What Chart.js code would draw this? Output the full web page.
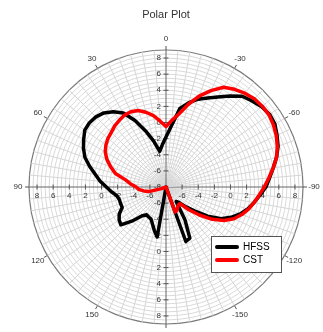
<!DOCTYPE html>
<html>
<head>
<meta charset="utf-8">
<script src="https://cdn.jsdelivr.net/npm/chart.js@4.4.0/dist/chart.umd.min.js"></script>
<style>
  html, body { margin: 0; padding: 0; background: #fff; }
  canvas { display: block; }
</style>
</head>
<body>
<canvas id="polarChart" width="323" height="332"></canvas>
<script>
// angle of every spoke (deg), in the order the radar walks them: clockwise from top
const angles = [0, -5, -10, -15, -20, -25, -30, -35, -40, -45, -50, -55, -60, -65, -70, -75, -80, -85,
  -90, -95, -100, -105, -110, -115, -120, -125, -130, -135, -140, -145, -150, -155, -160, -165, -170, -175,
  180, 175, 170, 165, 160, 155, 150, 145, 140, 135, 130, 125, 120, 115, 110, 105, 100, 95,
  90, 85, 80, 75, 70, 65, 60, 55, 50, 45, 40, 35, 30, 25, 20, 15, 10, 5];

// HFSS gain (dB), same order as angles
const hfss = [-1.8, -0.4, 1.9, 2.8, 3.6, 4.2, 4.9, 5.8, 6.7, 7.1, 7.5, 7.7, 7.6, 7.2, 6.8, 6.2, 5.5, 4.9,
  4.4, 3.7, 3.1, 2.5, 1.8, 0.9, -0.1, -1.7, -3.4, -4.5, -5.5, -5.8, -3.3, -1.0, -0.8, -8, -8, -8,
  -8, -8, -1.7, -2.4, -3.1, -3.6, -3.7, -3.8, -3.3, -2.0, -0.7, -0.9, -1.3, -2.0, -2.0, -2.0, -1.8, -1.2,
  -0.6, 0.2, 0.9, 1.8, 2.7, 3.3, 3.8, 4.3, 4.4, 4.3, 4.0, 3.4, 2.6, 1.1, -0.6, -2.1, -3.5, -2.75];

// CST gain (dB), same order as angles
const cst = [-0.5, 0.3, 1.2, 2.6, 4.0, 5.2, 6.3, 6.8, 7.2, 7.5, 7.6, 7.6, 7.4, 7.1, 6.7, 6.2, 5.5, 4.8,
  4.2, 3.6, 3.1, 2.6, 2.0, 1.3, 0.3, -1.0, -2.6, -4.0, -5.3, -5.3, -5.1, -4.8, -4.7, -8, -8, -8,
  -8, -8, -8, -8, -8, -8, -8, -8, -8, -8, -8, -8, -8, -8, -7.4, -5.8, -5.2, -4.6,
  -4.3, -3.6, -2.9, -1.5, -0.7, 0.1, 0.7, 1.1, 1.4, 1.6, 1.9, 2.1, 2.3, 2.3, 2.1, 1.6, 1.0, 0.2];

const rLabels = [8, 6, 4, 2, 0, -2, -4, -6];
const angleLabels = [0, 30, 60, 90, 120, 150, 180, -150, -120, -90, -60, -30];

const axisIdx = [0, 18, 36, 54];

// tick labels on the four axes, angle labels and the legend box
const overlay = {
  id: 'overlay',
  beforeDatasetsDraw(chart) {
    const s = chart.scales.r;
    const ctx = chart.ctx;
    ctx.save();
    ctx.fillStyle = '#333';
    ctx.strokeStyle = '#555';
    ctx.lineWidth = 1;
    ctx.font = '8px "Liberation Sans", Arial, sans-serif';
    ctx.textBaseline = 'middle';

    // top and bottom axes: labels on the left side
    [0, 36].forEach(idx => {
      const vals = idx === 0 ? rLabels.concat([-8]) : rLabels;
      vals.forEach(v => {
        const p = s.getPointPositionForValue(idx, v);
        ctx.beginPath();
        ctx.moveTo(p.x - 2.5, p.y);
        ctx.lineTo(p.x + 2.5, p.y);
        ctx.stroke();
        ctx.textAlign = 'right';
        ctx.fillText(String(v), p.x - 5, p.y);
      });
    });
    // left and right axes: labels below
    [18, 54].forEach(idx => {
      rLabels.forEach(v => {
        const p = s.getPointPositionForValue(idx, v);
        ctx.beginPath();
        ctx.moveTo(p.x, p.y - 2.5);
        ctx.lineTo(p.x, p.y + 2.5);
        ctx.stroke();
        ctx.textAlign = 'center';
        ctx.fillText(String(v), p.x, p.y + 9);
      });
    });

    // angle labels round the rim
    angleLabels.forEach(a => {
      const idx = angles.indexOf(a);
      const p0 = s.getPointPosition(idx, s.drawingArea);
      const p1 = s.getPointPosition(idx, s.drawingArea + 4);
      ctx.beginPath();
      ctx.moveTo(p0.x, p0.y);
      ctx.lineTo(p1.x, p1.y);
      ctx.stroke();
      const p = s.getPointPosition(idx, s.drawingArea + 11);
      ctx.textAlign = 'center';
      ctx.fillText(String(a), p.x, p.y);
    });
    ctx.restore();
  },
  afterDraw(chart) {
    const ctx = chart.ctx;
    ctx.save();
    ctx.fillStyle = '#fff';
    ctx.strokeStyle = '#555';
    ctx.lineWidth = 1;
    ctx.fillRect(211.5, 236.5, 70, 36);
    ctx.strokeRect(211.5, 236.5, 70, 36);
    const items = [['HFSS', '#000000', 247], ['CST', '#ff0000', 260]];
    items.forEach(([txt, col, y]) => {
      ctx.strokeStyle = col;
      ctx.lineWidth = 4;
      ctx.lineCap = 'round';
      ctx.beginPath();
      ctx.moveTo(217, y);
      ctx.lineTo(237, y);
      ctx.stroke();
      ctx.fillStyle = '#000';
      ctx.font = '10px "Liberation Sans", Arial, sans-serif';
      ctx.textAlign = 'left';
      ctx.textBaseline = 'middle';
      ctx.fillText(txt, 243, y);
    });
    ctx.restore();
  }
};

new Chart(document.getElementById('polarChart'), {
  type: 'radar',
  data: {
    labels: angles,
    datasets: [
      { label: 'HFSS', data: hfss, borderColor: '#000000', borderWidth: 3.5, pointRadius: 0, fill: false, order: 1 },
      { label: 'CST', data: cst, borderColor: '#ff0000', borderWidth: 3.5, pointRadius: 0, fill: false, order: 0 }
    ]
  },
  options: {
    responsive: false,
    animation: false,
    devicePixelRatio: 1,
    layout: { padding: { left: 29, right: 20, top: 0, bottom: 7 } },
    elements: { line: { tension: 0, borderJoinStyle: 'round' } },
    plugins: {
      legend: { display: false },
      tooltip: { enabled: false },
      title: {
        display: true,
        text: 'Polar Plot',
        color: '#333',
        font: { family: '"Liberation Sans", Arial, sans-serif', size: 11, weight: 'normal' },
        padding: { top: 8, bottom: 29 }
      }
    },
    scales: {
      r: {
        min: -8,
        max: 9,
        ticks: { display: false, stepSize: 0.5 },
        pointLabels: { display: false },
        grid: {
          circular: true,
          color: c => c.tick && c.tick.value === 9 ? '#7a7a7a' : '#dadada',
          lineWidth: c => c.tick && c.tick.value === 9 ? 1.2 : 1
        },
        angleLines: {
          color: c => axisIdx.includes(c.index) ? '#666' : '#d6d6d6',
          lineWidth: 1
        }
      }
    }
  },
  plugins: [overlay]
});
</script>
</body>
</html>
